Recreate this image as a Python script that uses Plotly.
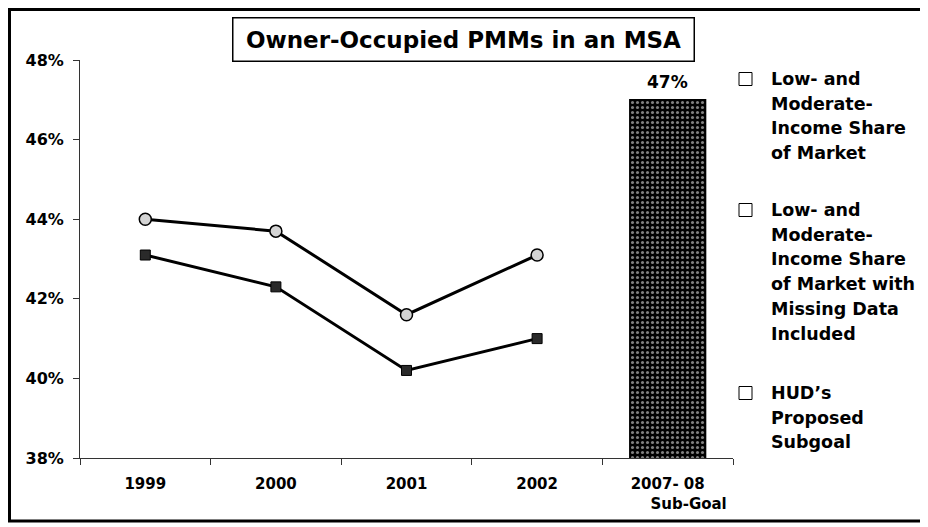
import plotly.graph_objects as go

# ---------------- data ----------------
categories = ["1999", "2000", "2001", "2002", "2007- 08"]
tick_labels = ["1999", "2000", "2001", "2002",
               "2007- 08<br>" + "\u00a0" * 8 + "Sub-Goal"]
years = ["1999", "2000", "2001", "2002"]
share_missing_incl = [44.0, 43.7, 41.6, 43.1]   # circles
share_market = [43.1, 42.3, 40.2, 41.0]          # squares
subgoal_cat = ["2007- 08"]
subgoal_val = [47.0]
subgoal_label = ["47%"]
y_ticks = [38, 40, 42, 44, 46, 48]
y_tick_text = ["38%", "40%", "42%", "44%", "46%", "48%"]

title_text = "Owner-Occupied PMMs in an MSA"
legend_items = [
    ["Low- and", "Moderate-", "Income Share", "of Market"],
    ["Low- and", "Moderate-", "Income Share", "of Market with",
     "Missing Data", "Included"],
    ["HUD\u2019s", "Proposed", "Subgoal"],
]

FONT = "DejaVu Sans"

# plot area in page pixels (928 x 527 window); the page body adds an 8px margin
PAGE_W, PAGE_H, BODY = 928, 527, 8
L, R, T, B = 80, 733, 60, 458


def px_to_paper_x(px):
    return (px - L) / (R - L)


def px_to_paper_y(py):
    return (B - py) / (B - T)


fig = go.Figure()

fig.add_trace(go.Bar(
    x=subgoal_cat, y=subgoal_val, width=0.58,
    marker=dict(
        color="black",
        line=dict(color="black", width=1.5),
        pattern=dict(shape=".", bgcolor="black", fgcolor="white",
                     size=5, solidity=0.3, fillmode="overlay"),
    ),
    showlegend=False, hoverinfo="skip",
))

fig.add_trace(go.Scatter(
    x=years, y=share_missing_incl, mode="lines+markers",
    line=dict(color="black", width=3),
    marker=dict(symbol="circle", size=12, color="#d4d4d4",
                line=dict(color="black", width=1.5)),
    showlegend=False,
))

fig.add_trace(go.Scatter(
    x=years, y=share_market, mode="lines+markers",
    line=dict(color="black", width=3),
    marker=dict(symbol="square", size=10, color="#2a2a2a",
                line=dict(color="black", width=1)),
    showlegend=False,
))

annotations = []

# value label above the subgoal bar
for c, v, t in zip(subgoal_cat, subgoal_val, subgoal_label):
    annotations.append(dict(
        x=c, y=v, text=t, showarrow=False, yshift=18,
        font=dict(family=FONT, size=17, color="black", weight="bold"),
    ))

# title box
annotations.append(dict(
    xref="paper", yref="paper",
    x=px_to_paper_x(463), y=px_to_paper_y(39),
    text=title_text, showarrow=False,
    font=dict(family=FONT, size=23, color="black", weight="bold"),
    bordercolor="black", borderwidth=1.5, borderpad=4,
    bgcolor="white", width=452, height=34,
    xanchor="center", yanchor="middle",
))

# legend drawn by hand (open squares + multi-line labels)
shapes = []
line_gap = 24.7
item_tops = [79, 210, 393]
for top, lines in zip(item_tops, legend_items):
    shapes.append(dict(
        type="rect", xref="paper", yref="paper",
        x0=px_to_paper_x(739), x1=px_to_paper_x(752),
        y0=px_to_paper_y(top - 6.5), y1=px_to_paper_y(top + 6.5),
        line=dict(color="black", width=1), fillcolor="white",
    ))
    for k, txt in enumerate(lines):
        annotations.append(dict(
            xref="paper", yref="paper",
            x=px_to_paper_x(769), y=px_to_paper_y(top + k * line_gap),
            text=txt, showarrow=False, xanchor="left", yanchor="middle",
            font=dict(family=FONT, size=17.5, color="black", weight="bold"),
        ))

# outer frame
shapes.append(dict(
    type="rect", xref="paper", yref="paper",
    x0=px_to_paper_x(9.5), x1=px_to_paper_x(922),
    y0=px_to_paper_y(521), y1=px_to_paper_y(9.5),
    line=dict(color="black", width=3),
))

fig.update_layout(
    width=PAGE_W - BODY, height=PAGE_H - BODY,
    margin=dict(l=L - BODY, r=PAGE_W - R, t=T - BODY, b=PAGE_H - B),
    paper_bgcolor="white", plot_bgcolor="white",
    showlegend=False,
    annotations=annotations,
    shapes=shapes,
    font=dict(family=FONT, color="black"),
    xaxis=dict(
        type="category", categoryorder="array", categoryarray=categories,
        range=[-0.5, 4.5],
        tickvals=categories, ticktext=tick_labels,
        tickson="boundaries", ticks="outside", ticklen=6,
        tickcolor="#333", tickwidth=1,
        showline=True, linecolor="#333", linewidth=1,
        showgrid=False, zeroline=False,
        ticklabelstandoff=12,
        tickfont=dict(family=FONT, size=15, color="black", weight="bold"),
    ),
    yaxis=dict(
        range=[38, 48], tickvals=y_ticks, ticktext=y_tick_text,
        ticks="outside", ticklen=6, tickcolor="#333", tickwidth=1,
        showline=True, linecolor="#333", linewidth=1,
        showgrid=False, zeroline=False,
        ticklabelstandoff=6,
        tickfont=dict(family=FONT, size=16, color="black", weight="bold"),
    ),
)

fig.write_html("out.html")
